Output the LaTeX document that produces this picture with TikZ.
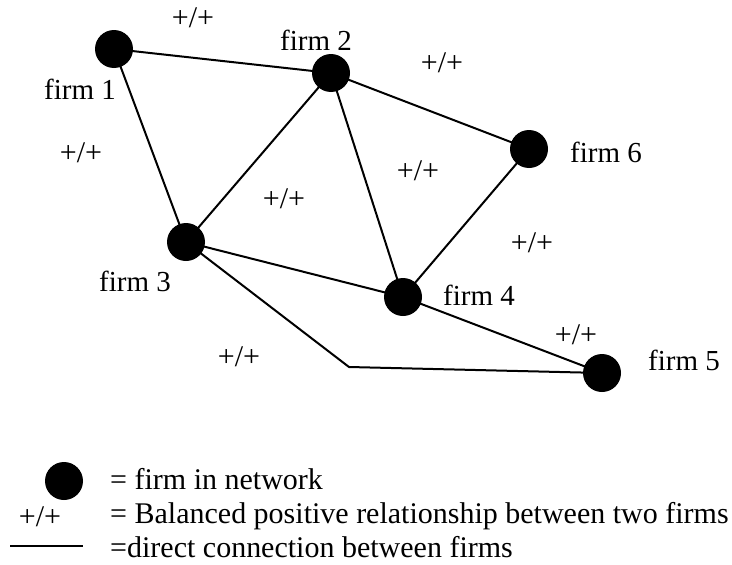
\documentclass[tikz,border=0pt]{standalone}
\usepackage{fontspec}
\setmainfont{Liberation Serif}
\begin{document}
\begin{tikzpicture}[x=1pt,y=-1pt,
  firm/.style={circle,fill=black,minimum size=38pt,inner sep=0pt},
  lbl/.style={inner sep=0pt,font=\fontsize{29}{34}\selectfont},
  leg/.style={inner sep=0pt,font=\fontsize{30}{35}\selectfont},
  rel/.style={inner sep=0pt,font=\fontsize{30}{35}\selectfont},
  edge/.style={line width=2pt}]
\useasboundingbox (0,0) rectangle (732,565);
% firms
\node[firm] (f1) at (114,49) {};
\node[firm] (f2) at (331,73) {};
\node[firm] (f3) at (186,242) {};
\node[firm] (f4) at (403,297) {};
\node[firm] (f5) at (602,373) {};
\node[firm] (f6) at (529,149) {};
\coordinate (c) at (349,367);
% connections
\draw[edge] (f1.center) -- (f2.center);
\draw[edge] (f1.center) -- (f3.center);
\draw[edge] (f2.center) -- (f3.center);
\draw[edge] (f2.center) -- (f6.center);
\draw[edge] (f2.center) -- (f4.center);
\draw[edge] (f3.center) -- (f4.center);
\draw[edge] (f6.center) -- (f4.center);
\draw[edge] (f4.center) -- (f5.center);
\draw[edge] (f3.center) -- (c) -- (f5.center);
% firm labels
\node[lbl,anchor=base] (l1) at (80,99) {firm 1};
\node[lbl,anchor=base] (l2) at (316,50) {firm 2};
\node[lbl,anchor=base] (l3) at (135,291) {firm 3};
\node[lbl,anchor=base] (l4) at (479,305) {firm 4};
\node[lbl,anchor=base] (l5) at (684,370) {firm 5};
\node[lbl,anchor=base] (l6) at (606,162) {firm 6};
% relationship labels
\node[rel] (r12) at (193,18) {+/+};
\node[rel] (r13) at (81,153) {+/+};
\node[rel] (r23) at (284,199) {+/+};
\node[rel] (r26) at (442,63) {+/+};
\node[rel] (r24) at (418,171) {+/+};
\node[rel] (r46) at (532,243) {+/+};
\node[rel] (r45) at (576,335) {+/+};
\node[rel] (r35) at (239,357) {+/+};
% legend
\node[firm] (lgf) at (64,481) {};
\node[rel] (lgr) at (40,517) {+/+};
\coordinate (la) at (10,546);
\coordinate (lb) at (83,546);
\draw[line width=2.7pt] (la) -- (lb);
\node[leg,anchor=base west] (t1) at (110,489) {= firm in network};
\node[leg,anchor=base west] (t2) at (110,523.5) {= Balanced positive relationship between two firms};
\node[leg,anchor=base west] (t3) at (110,557) {=direct connection between firms};
\end{tikzpicture}
\end{document}
